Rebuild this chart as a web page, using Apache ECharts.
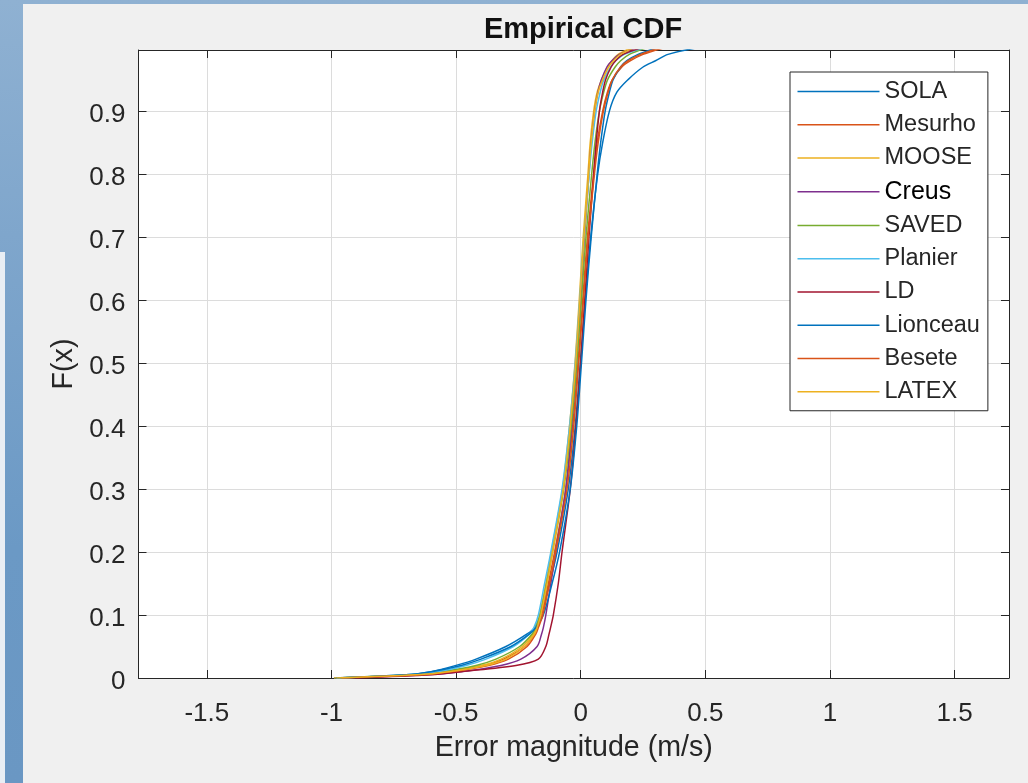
<!DOCTYPE html>
<html>
<head>
<meta charset="utf-8">
<script src="https://cdn.jsdelivr.net/npm/echarts@6/dist/echarts.min.js"></script>
<style>
  html, body { margin: 0; padding: 0; width: 1028px; height: 783px; overflow: hidden; }
  body { background: linear-gradient(180deg, #8fb1d2 0%, #7fa6cc 30%, #6b99c5 70%, #6a97c3 100%); position: relative; }
  #strip { position: absolute; left: 0; top: 252px; width: 5px; height: 531px; background: #e9eef4; }
  #fig { position: absolute; left: 23px; top: 4px; right: 0; bottom: 0; background: #f0f0f0; }
  #chart { position: absolute; left: 0; top: 0; width: 1028px; height: 783px; }
</style>
</head>
<body>
<div id="strip"></div>
<div id="fig"></div>
<div id="chart"></div>
<script>
// Cumulative probability levels (F(x)) shared by all curves
const probs = [0, 0.005, 0.01, 0.02, 0.03, 0.05, 0.07, 0.08, 0.1, 0.15, 0.2, 0.3, 0.4, 0.5, 0.6, 0.7, 0.8, 0.85, 0.9, 0.93, 0.95, 0.97, 0.98, 0.99, 1];

// Error magnitude (m/s) at each probability level, per station
const SOLA     = [-0.99, -0.70, -0.60, -0.50, -0.42, -0.30, -0.215, -0.185, -0.16, -0.125, -0.095, -0.05, -0.022, -0.002, 0.018, 0.04, 0.068, 0.088, 0.115, 0.145, 0.19, 0.25, 0.30, 0.35, 0.46];
const Mesurho  = [-0.97, -0.66, -0.54, -0.39, -0.31, -0.225, -0.185, -0.175, -0.157, -0.13, -0.105, -0.06, -0.032, -0.011, 0.008, 0.027, 0.052, 0.066, 0.088, 0.107, 0.127, 0.165, 0.20, 0.25, 0.33];
const MOOSE    = [-0.99, -0.68, -0.55, -0.40, -0.32, -0.235, -0.19, -0.18, -0.165, -0.14, -0.118, -0.073, -0.045, -0.023, -0.006, 0.01, 0.029, 0.038, 0.052, 0.066, 0.084, 0.107, 0.125, 0.15, 0.20];
const Creus    = [-0.95, -0.62, -0.48, -0.32, -0.24, -0.175, -0.157, -0.15, -0.14, -0.12, -0.10, -0.06, -0.036, -0.017, 0.0, 0.015, 0.033, 0.042, 0.056, 0.069, 0.083, 0.105, 0.125, 0.155, 0.22];
const SAVED    = [-0.97, -0.68, -0.56, -0.42, -0.34, -0.245, -0.195, -0.182, -0.163, -0.137, -0.113, -0.068, -0.038, -0.016, 0.003, 0.021, 0.044, 0.057, 0.075, 0.092, 0.108, 0.138, 0.16, 0.195, 0.26];
const Planier  = [-0.98, -0.70, -0.58, -0.46, -0.38, -0.27, -0.205, -0.188, -0.17, -0.145, -0.12, -0.075, -0.045, -0.022, -0.004, 0.013, 0.034, 0.046, 0.062, 0.078, 0.093, 0.12, 0.14, 0.175, 0.25];
const LD       = [-0.90, -0.60, -0.48, -0.26, -0.17, -0.14, -0.127, -0.121, -0.11, -0.09, -0.075, -0.042, -0.019, 0.0, 0.016, 0.033, 0.052, 0.062, 0.075, 0.088, 0.10, 0.122, 0.14, 0.17, 0.24];
const Lionceau = [-0.98, -0.70, -0.60, -0.48, -0.40, -0.28, -0.205, -0.18, -0.15, -0.115, -0.085, -0.042, -0.016, 0.003, 0.021, 0.042, 0.066, 0.08, 0.098, 0.115, 0.13, 0.16, 0.185, 0.23, 0.30];
const Besete   = [-0.96, -0.64, -0.52, -0.37, -0.29, -0.215, -0.18, -0.17, -0.152, -0.125, -0.10, -0.055, -0.028, -0.008, 0.011, 0.03, 0.055, 0.07, 0.091, 0.11, 0.127, 0.16, 0.19, 0.24, 0.31];
const LATEX    = [-0.98, -0.66, -0.53, -0.38, -0.30, -0.225, -0.185, -0.175, -0.16, -0.135, -0.113, -0.07, -0.042, -0.02, -0.003, 0.013, 0.032, 0.042, 0.056, 0.07, 0.088, 0.112, 0.132, 0.16, 0.21];

const seriesNames = ['SOLA', 'Mesurho', 'MOOSE', 'Creus', 'SAVED', 'Planier', 'LD', 'Lionceau', 'Besete', 'LATEX'];
const seriesValues = [SOLA, Mesurho, MOOSE, Creus, SAVED, Planier, LD, Lionceau, Besete, LATEX];
const colors = ['#0072BD', '#D95319', '#EDB120', '#7E2F8E', '#77AC30', '#4DBEEE', '#A2142F', '#0072BD', '#D95319', '#EDB120'];

const xTicks = [-1.5, -1, -0.5, 0, 0.5, 1, 1.5];
const yTicks = [0, 0.1, 0.2, 0.3, 0.4, 0.5, 0.6, 0.7, 0.8, 0.9];

const FONT = 'Liberation Sans, Arial, Helvetica, sans-serif';
const TXT = '#262626';
const XMIN = -1.774, XMAX = 1.718, YMIN = 0, YMAX = 0.997;

const chart = echarts.init(document.getElementById('chart'), null, { renderer: 'canvas' });

const boxAxisLine = { show: true, onZero: false, lineStyle: { color: TXT, width: 1 } };

const option = {
  backgroundColor: 'transparent',
  animation: false,
  color: colors,
  title: {
    text: 'Empirical CDF',
    left: 583, top: 15, textAlign: 'center', padding: 0,
    textStyle: { fontFamily: FONT, fontSize: 29, fontWeight: 'bold', color: '#111' }
  },
  grid: {
    left: 138.5, top: 50, right: 19, bottom: 105,
    show: true, backgroundColor: '#ffffff', borderWidth: 0
  },
  legend: {
    orient: 'vertical', left: 790, top: 72,
    padding: [7.5, 8, 7, 7.5],
    itemWidth: 82, itemHeight: 1.5, itemGap: 9.25, itemTextGap: 6,
    icon: 'rect',
    backgroundColor: '#ffffff', borderColor: TXT, borderWidth: 1, borderRadius: 0,
    data: seriesNames,
    formatter: function (name) { return name === 'Creus' ? '{k|' + name + '}' : name; },
    textStyle: {
      fontFamily: FONT, fontSize: 23.5, color: TXT, lineHeight: 24,
      rich: { k: { fontFamily: FONT, fontSize: 25, color: '#000', lineHeight: 24 } }
    }
  },
  xAxis: [{
    type: 'value', min: XMIN, max: XMAX, splitNumber: 7, position: 'bottom',
    name: 'Error magnitude (m/s)', nameLocation: 'middle', nameGap: 56,
    nameTextStyle: { fontFamily: FONT, fontSize: 28.6, color: TXT },
    axisLine: boxAxisLine,
    axisTick: { show: true, inside: true, length: 8, customValues: xTicks, lineStyle: { color: TXT } },
    axisLabel: { customValues: xTicks, margin: 23, fontFamily: FONT, fontSize: 26, color: TXT,
                 formatter: v => String(v) },
    splitLine: { show: true, lineStyle: { color: '#dcdcdc', width: 1 } }
  }, {
    type: 'value', min: XMIN, max: XMAX, splitNumber: 7, position: 'top',
    axisLine: boxAxisLine,
    axisTick: { show: true, inside: true, length: 8, customValues: xTicks, lineStyle: { color: TXT } },
    axisLabel: { show: false }, splitLine: { show: false }
  }],
  yAxis: [{
    type: 'value', min: YMIN, max: YMAX, interval: 0.1, position: 'left',
    name: 'F(x)', nameLocation: 'middle', nameGap: 59, nameRotate: 90,
    nameTextStyle: { fontFamily: FONT, fontSize: 28.6, color: TXT },
    axisLine: boxAxisLine,
    axisTick: { show: true, inside: true, length: 8, customValues: yTicks, lineStyle: { color: TXT } },
    axisLabel: { customValues: yTicks, margin: 13, fontFamily: FONT, fontSize: 26, color: TXT,
                 formatter: v => '{a|' + String(Math.round(v * 10) / 10) + '}',
                 rich: { a: { fontFamily: FONT, fontSize: 26, color: TXT, padding: [7, 0, 0, 0] } } },
    splitLine: { show: true, lineStyle: { color: '#dcdcdc', width: 1 } }
  }, {
    type: 'value', min: YMIN, max: YMAX, interval: 0.1, position: 'right',
    axisLine: boxAxisLine,
    axisTick: { show: true, inside: true, length: 8, customValues: yTicks, lineStyle: { color: TXT } },
    axisLabel: { show: false }, splitLine: { show: false }
  }],
  series: seriesNames.map((name, i) => ({
    name: name,
    type: 'line',
    xAxisIndex: 0, yAxisIndex: 0,
    data: seriesValues[i].map((x, k) => [x, probs[k]]),
    showSymbol: false,
    smooth: 0.3,
    clip: true,
    lineStyle: { width: 1.5, color: colors[i] },
    itemStyle: { color: colors[i] },
    emphasis: { disabled: true }
  }))
};

chart.setOption(option);
</script>
</body>
</html>
